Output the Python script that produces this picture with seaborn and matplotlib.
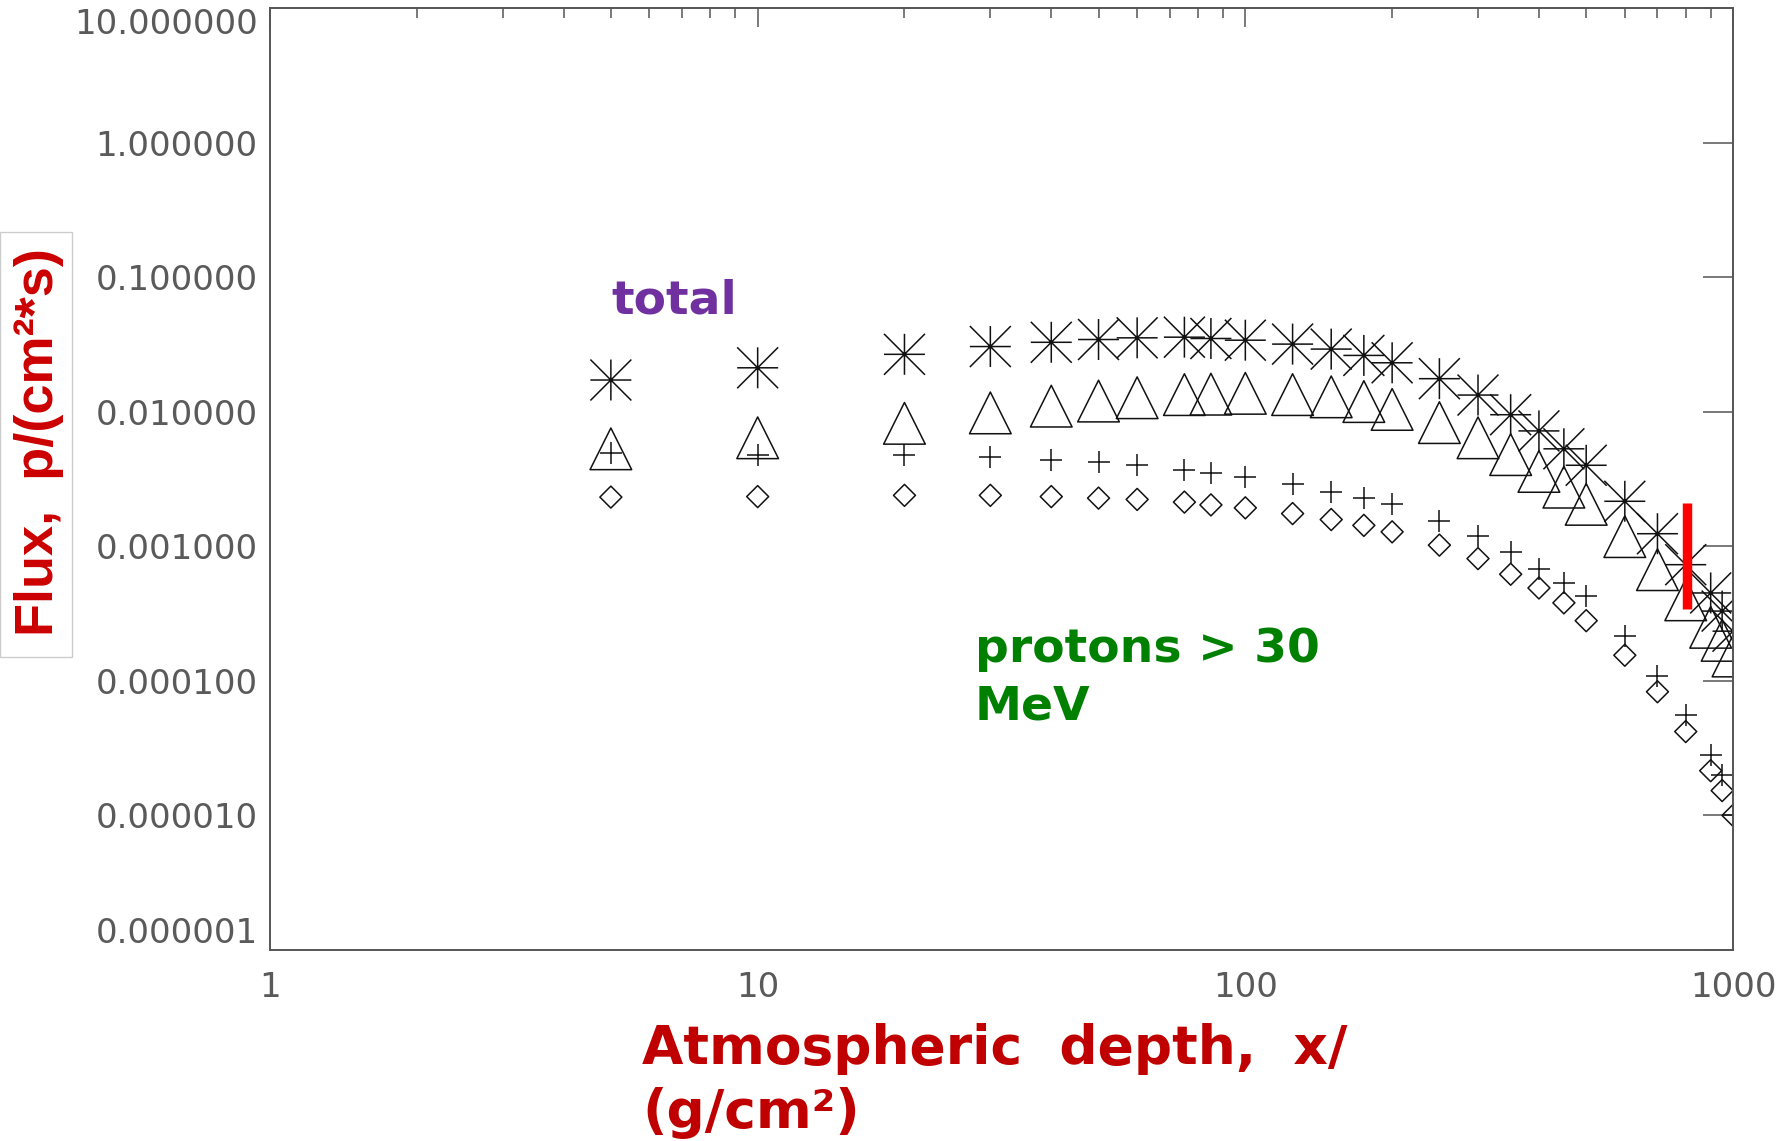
import numpy as np
import pandas as pd
import matplotlib
matplotlib.use("Agg")
from matplotlib import pyplot as plt
from matplotlib.path import Path
from matplotlib.patches import Rectangle
from matplotlib import ticker
import seaborn as sns

# atmospheric depth, g/cm2
depth = [5, 10, 20, 30, 40, 50, 60, 75, 85, 100, 125, 150, 175, 200,
         250, 300, 350, 400, 450, 500, 600, 700, 800, 900, 950, 1000]

# asterisks (total)
flux_total = [0.0172, 0.0212, 0.0267, 0.0305, 0.0328, 0.0344, 0.0354, 0.0358, 0.0350, 0.0340,
              0.0318, 0.0292, 0.0262, 0.0231, 0.0176, 0.0133, 0.0095, 0.0072, 0.0053, 0.0040,
              0.00216, 0.00124, 0.00073, 0.00045, 0.00033, 0.000234]
# triangles
flux_tri = [0.0053, 0.0064, 0.0082, 0.0098, 0.0110, 0.0120, 0.0127, 0.0134, 0.0135, 0.0137,
            0.0134, 0.0129, 0.0119, 0.0104, 0.0083, 0.0064, 0.0048, 0.0036, 0.00275, 0.00205,
            0.00118, 0.00067, 0.00040, 0.00025, 0.00020, 0.000153]
# pluses
flux_plus = [0.0049, 0.0048, 0.0048, 0.0046, 0.00435, 0.0042, 0.0040, 0.0037, 0.0035, 0.0033,
             0.0029, 0.00255, 0.0023, 0.00206, 0.00153, 0.0012, 0.0009, 0.00068, 0.00053, 0.000425,
             0.000214, 0.000109, 5.6e-5, 2.8e-5, 2.0e-5, 1.0e-5]
# diamonds
flux_dia = [0.00232, 0.00234, 0.00239, 0.00239, 0.00234, 0.00228, 0.00223, 0.00213, 0.00203, 0.00193,
            0.00175, 0.00158, 0.00143, 0.00128, 0.00102, 0.00081, 0.00062, 0.00049, 0.00038, 0.00028,
            0.000155, 8.3e-5, 4.2e-5, 2.15e-5, 1.53e-5, 1.0e-5]

# red marker bar
bar_x = [805, 805]
bar_y = [0.00209, 0.000344]

yticks = [1e-6, 1e-5, 1e-4, 1e-3, 1e-2, 1e-1, 1, 10]
xticks = [1, 10, 100, 1000]

df = pd.DataFrame({"depth": depth, "total": flux_total, "tri": flux_tri,
                   "plus": flux_plus, "dia": flux_dia})

sns.set_theme(style="white")
plt.rcParams["font.family"] = ["DejaVu Sans"]

W, H = 1791, 1141
fig = plt.figure(figsize=(W / 100, H / 100), dpi=100)
ax = fig.add_axes([270 / W, 1 - 950 / H, (1733 - 270) / W, (950 - 8) / H])

# IDL-like symbols
asterisk = Path([(-1, 0), (1, 0), (0, -1), (0, 1), (-1, -1), (1, 1), (-1, 1), (1, -1)],
                [Path.MOVETO, Path.LINETO] * 4)
diamond = Path([(0, 1), (1, 0), (0, -1), (-1, 0), (0, 1)],
               [Path.MOVETO, Path.LINETO, Path.LINETO, Path.LINETO, Path.CLOSEPOLY])

lw = 1.1
sns.scatterplot(data=df, x="depth", y="total", marker=asterisk, s=870,
                facecolor="none", edgecolor="#111111", linewidth=lw, ax=ax)
sns.scatterplot(data=df, x="depth", y="tri", marker="^", s=900,
                facecolor="none", edgecolor="#111111", linewidth=lw, ax=ax)
sns.scatterplot(data=df, x="depth", y="plus", marker="+", s=250,
                color="#111111", linewidth=lw, ax=ax)
sns.scatterplot(data=df, x="depth", y="dia", marker=diamond, s=250,
                facecolor="none", edgecolor="#111111", linewidth=lw, ax=ax)

ax.plot(bar_x, bar_y, color="#ff0000", linewidth=6.8, solid_capstyle="butt")

ax.set_xscale("log")
ax.set_yscale("log")
ax.set_xlim(1, 1000)
ax.set_ylim(1e-6, 10)
ax.set_xlabel("")
ax.set_ylabel("")

ax.yaxis.set_major_locator(ticker.FixedLocator(yticks))
ax.yaxis.set_minor_locator(ticker.NullLocator())
ax.yaxis.set_major_formatter(ticker.FuncFormatter(lambda v, p: f"{v:.6f}"))
ax.xaxis.set_major_locator(ticker.FixedLocator(xticks))
ax.xaxis.set_minor_locator(ticker.LogLocator(base=10, subs=np.arange(2, 10), numticks=10))
ax.xaxis.set_major_formatter(ticker.FuncFormatter(lambda v, p: f"{v:g}"))
ax.xaxis.set_minor_formatter(ticker.NullFormatter())

for sp in ax.spines.values():
    sp.set_color("#555555")
    sp.set_linewidth(1.4)

ax.tick_params(axis="both", which="both", direction="in", top=True, right=True,
               color="#555555", width=1.1, labelcolor="#5a5a5a", labelsize=24.5)
ax.tick_params(axis="x", which="major", length=13.7, pad=15)
ax.tick_params(axis="x", which="minor", length=7.2)
ax.tick_params(axis="y", which="major", length=21.6, pad=9)

# labels and annotations
fig.text(642 / W, 1 - 1128 / H, "Atmospheric  depth,  x/\n(g/cm²)", ha="left", va="baseline",
         fontsize=38.5, fontweight="bold", color="#c00000", linespacing=1.3)
fig.patches.append(Rectangle((0, 1 - 657 / H), 72 / W, 425 / H, transform=fig.transFigure,
                             fill=False, edgecolor="#cccccc", linewidth=1))
fig.text(39 / W, 1 - 442 / H, "Flux,  p/(cm²*s)", rotation=90, ha="center", va="center",
         fontsize=39, fontweight="bold", color="#cc0000", family=["Liberation Sans", "DejaVu Sans"])
fig.text(611 / W, 1 - 313 / H, "total", ha="left", va="baseline",
         fontsize=34, fontweight="bold", color="#7030a0")
fig.text(975 / W, 1 - 719 / H, "protons > 30\nMeV", ha="left", va="baseline",
         fontsize=34, fontweight="bold", color="#008000", linespacing=1.33)

# IDL keeps the end labels inside the frame
fig.canvas.draw()
ylabels = ax.yaxis.get_major_ticks()
ylabels[0].label1.set_va("bottom")
ylabels[-1].label1.set_va("top")

fig.savefig("out.png", dpi=100, facecolor="white")
